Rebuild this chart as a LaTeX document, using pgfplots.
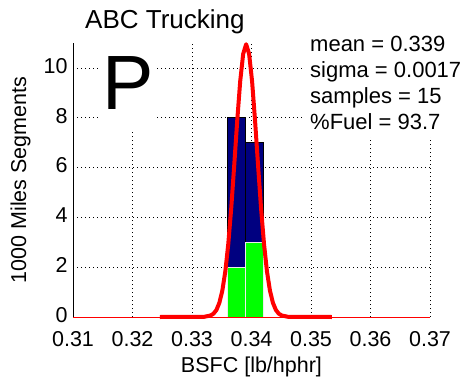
\documentclass[border=0pt]{standalone}
\usepackage{pgfplots}
\pgfplotsset{compat=1.18}
\usepackage{fontspec}
\setmainfont{Liberation Sans}
\definecolor{navyb}{RGB}{0,0,128}
\definecolor{brightgreen}{RGB}{0,255,0}
\definecolor{pred}{RGB}{255,0,0}
\begin{document}
\begin{tikzpicture}
\useasboundingbox (0pt,0pt) rectangle (471pt,378pt);
\begin{axis}[
  at={(73pt,61pt)}, anchor=south west,
  scale only axis, width=357pt, height=274pt,
  xmin=0.31, xmax=0.37, ymin=0, ymax=11,
  axis x line*=bottom, axis y line*=left,
  axis line style={black, line width=0.8pt, -},
  xtick={0.31,0.32,0.33,0.34,0.35,0.36,0.37},
  ytick={0,2,4,6,8,10},
  major tick length=0pt,
  xmajorgrids, ymajorgrids,
  grid style={black, line width=0.6pt, dash pattern=on 0.8pt off 3.2pt},
  xticklabel style={/pgf/number format/fixed, /pgf/number format/precision=2, /pgf/number format/fixed zerofill, /pgf/number format/assume math mode=true, font=\fontsize{21.5}{21.5}\selectfont, anchor=base, yshift=-29pt},
  yticklabel style={/pgf/number format/assume math mode=true, font=\fontsize{21.5}{21.5}\selectfont, xshift=-2pt, yshift=2pt},
  scaled x ticks=false,
  xlabel={BSFC [lb/hphr]},
  ylabel={1000 Miles Segments},
  xlabel style={font=\fontsize{21.5}{21.5}\selectfont, at={(axis description cs:0.5,0)}, anchor=base, yshift=-55pt},
  ylabel style={font=\fontsize{21.5}{21.5}\selectfont, yshift=6pt},
  clip=false,
]
\addplot[ybar interval, fill=navyb, draw=black, line width=0.6pt] coordinates {(0.3359,8) (0.3390,7) (0.3420,7)};
\addplot[ybar interval, fill=brightgreen, draw=white!85!gray, line width=0.6pt] coordinates {(0.3359,2) (0.3390,3) (0.3420,3)};
\addplot[pred, line width=1pt] coordinates {(0.31,0) (0.37,0)};
\addplot[pred, line width=4pt, line join=round] coordinates {
(0.3246,0) (0.3321,0.01) (0.3331,0.06) (0.3336,0.13) (0.3341,0.28) (0.3346,0.57)
(0.3351,1.06) (0.3356,1.83) (0.3361,2.94) (0.3366,4.39) (0.3371,6.10) (0.3376,7.88)
(0.3381,9.46) (0.3386,10.56) (0.3391,10.95) (0.3396,10.56) (0.3401,9.46) (0.3406,7.88)
(0.3411,6.10) (0.3416,4.39) (0.3421,2.94) (0.3426,1.83) (0.3431,1.06) (0.3436,0.57)
(0.3441,0.28) (0.3446,0.13) (0.3451,0.06) (0.3461,0.01) (0.3535,0)};
\end{axis}
% white masks behind the annotations
\fill[white] (98pt,248pt) rectangle (157pt,335pt);
\fill[white] (303pt,241pt) rectangle (471pt,335pt);
\node[anchor=base, inner sep=0pt, font=\fontsize{77}{77}\selectfont] at (128pt,268pt) {P};
\node[anchor=base west, inner sep=0pt, font=\fontsize{26}{26}\selectfont] at (85pt,349pt) {ABC Trucking};
\node[anchor=base west, inner sep=0pt, font=\fontsize{22}{22}\selectfont] at (310pt,326pt) {mean = 0.339};
\node[anchor=base west, inner sep=0pt, font=\fontsize{22}{22}\selectfont] at (310pt,300pt) {sigma = 0.0017};
\node[anchor=base west, inner sep=0pt, font=\fontsize{22}{22}\selectfont] at (310pt,274pt) {samples = 15};
\node[anchor=base west, inner sep=0pt, font=\fontsize{22}{22}\selectfont] at (310pt,248pt) {\%Fuel = 93.7};
\end{tikzpicture}
\end{document}
